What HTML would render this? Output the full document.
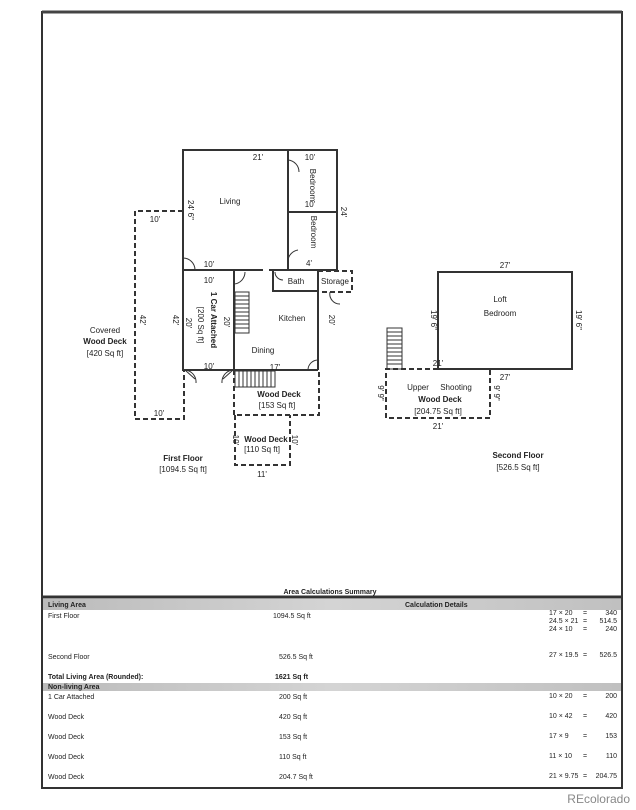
<!DOCTYPE html>
<html><head><meta charset="utf-8"><style>
html,body{margin:0;padding:0;background:#fff;}
svg{display:block;font-family:"Liberation Sans",sans-serif;}
</style></head><body>
<svg width="636" height="810" viewBox="0 0 636 810" xmlns="http://www.w3.org/2000/svg">
<rect x="0" y="0" width="636" height="810" fill="#fff"/>
<rect x="42" y="12" width="580" height="776" fill="none" stroke="#333" stroke-width="2"/>
<line x1="42" y1="12" x2="622" y2="12" stroke="#444" stroke-width="3"/>

<g stroke="#333" fill="none" stroke-width="2">
<polyline points="183,270 183,150 288,150 288,270"/>
<line x1="183" y1="270" x2="263" y2="270"/>
<line x1="269" y1="270" x2="337" y2="270"/>
<polyline points="288,150 337,150 337,270"/>
<line x1="288" y1="212" x2="337" y2="212"/>
<polyline points="183,270 183,370 318,370"/>
<line x1="234" y1="270" x2="234" y2="370"/>
<line x1="318" y1="270" x2="318" y2="370"/>
<polyline points="273,270 273,291 318,291"/>
<rect x="438" y="272" width="134" height="97"/>
</g>
<g stroke="#333" fill="none" stroke-width="2" stroke-dasharray="5,3">
<polyline points="183,211 135,211 135,419 184,419 184,370"/>
<polyline points="318,271 352,271 352,292 318,292"/>
<polyline points="234,370 234,415 319,415 319,370"/>
<polyline points="235,415 235,465 290,465 290,415"/>
<polyline points="438,369 386,369 386,418 490,418 490,369 438,369"/>
</g>
<g stroke="#333" stroke-width="1" fill="none">
<rect x="235" y="292" width="14" height="41"/>
<path d="M235 296h14M235 300h14M235 304h14M235 308h14M235 312h14M235 316h14M235 320h14M235 324h14M235 328h14"/>
<rect x="235" y="371" width="40" height="16"/>
<path d="M239 371v16M243 371v16M247 371v16M251 371v16M255 371v16M259 371v16M263 371v16M267 371v16M271 371v16"/>
<rect x="387" y="328" width="15" height="41"/>
<path d="M387 332h15M387 336h15M387 340h15M387 344h15M387 348h15M387 352h15M387 356h15M387 360h15M387 364h15"/>
<path d="M288 160 a12 12 0 0 1 11 12 M288 260 a12 12 0 0 1 10 -10 M183 258 a12 12 0 0 1 12 12 M234 272 v12 a12 12 0 0 0 11 -12"/>
<path d="M185 370 l10 9 M196 383 a12 12 0 0 0 -11 -13 M233 370 l-10 9 M222 383 a12 12 0 0 1 11 -13 M318 360 a10 10 0 0 0 -10 10 M330 292 a10 10 0 0 0 10 12 M275 272 a8 8 0 0 0 8 8"/>
</g>

<g font-size="8" fill="#222">
<text x="258" y="160" text-anchor="middle">21'</text>
<text x="230" y="204" text-anchor="middle">Living</text>
<text x="310" y="160" text-anchor="middle">10'</text>
<text x="310" y="207" text-anchor="middle">10'</text>
<text x="309" y="266" text-anchor="middle">4'</text>
<text x="209" y="267" text-anchor="middle">10'</text>
<text x="209" y="283" text-anchor="middle">10'</text>
<text x="209" y="369" text-anchor="middle">10'</text>
<text x="155" y="222" text-anchor="middle">10'</text>
<text x="159" y="416" text-anchor="middle">10'</text>
<text x="296" y="284" text-anchor="middle">Bath</text>
<text x="335" y="284" text-anchor="middle">Storage</text>
<text x="292" y="321" text-anchor="middle">Kitchen</text>
<text x="263" y="353" text-anchor="middle">Dining</text>
<text x="275" y="370" text-anchor="middle">17'</text>
<text x="277" y="408" text-anchor="middle">[153 Sq ft]</text>
<text x="262" y="452" text-anchor="middle">[110 Sq ft]</text>
<text x="262" y="477" text-anchor="middle">11'</text>
<text x="105" y="333" text-anchor="middle">Covered</text>
<text x="105" y="356" text-anchor="middle">[420 Sq ft]</text>
<text x="183" y="472" text-anchor="middle">[1094.5 Sq ft]</text>
<text x="505" y="268" text-anchor="middle">27'</text>
<text x="500" y="302" text-anchor="middle">Loft</text>
<text x="500" y="316" text-anchor="middle">Bedroom</text>
<text x="505" y="380" text-anchor="middle">27'</text>
<text x="438" y="366" text-anchor="middle">21'</text>
<text x="418" y="390" text-anchor="middle">Upper</text>
<text x="456" y="390" text-anchor="middle">Shooting</text>
<text x="438" y="414" text-anchor="middle">[204.75 Sq ft]</text>
<text x="438" y="429" text-anchor="middle">21'</text>
<text x="518" y="470" text-anchor="middle">[526.5 Sq ft]</text>
</g>
<g font-size="8" fill="#222" font-weight="bold">
<text x="279" y="397" text-anchor="middle">Wood Deck</text>
<text x="266" y="442" text-anchor="middle">Wood Deck</text>
<text x="105" y="344" text-anchor="middle">Wood Deck</text>
<text x="183" y="461" text-anchor="middle">First Floor</text>
<text x="440" y="402" text-anchor="middle">Wood Deck</text>
<text x="518" y="458" text-anchor="middle">Second Floor</text>
</g>
<g font-size="8" fill="#222">
<text transform="translate(188,210) rotate(90)" text-anchor="middle">24' 6"</text>
<text transform="translate(310,185) rotate(90)" text-anchor="middle">Bedroom</text>
<text transform="translate(311,232) rotate(90)" text-anchor="middle">Bedroom</text>
<text transform="translate(341,212) rotate(90)" text-anchor="middle">24'</text>
<text transform="translate(140,320) rotate(90)" text-anchor="middle">42'</text>
<text transform="translate(173,320) rotate(90)" text-anchor="middle">42'</text>
<text transform="translate(198,325) rotate(90)" text-anchor="middle">[200 Sq ft]</text>
<text transform="translate(186,323) rotate(90)" text-anchor="middle">20'</text>
<text transform="translate(224,322) rotate(90)" text-anchor="middle">20'</text>
<text transform="translate(329,320) rotate(90)" text-anchor="middle">20'</text>
<text transform="translate(233,440) rotate(90)" text-anchor="middle">10'</text>
<text transform="translate(292,440) rotate(90)" text-anchor="middle">10'</text>
<text transform="translate(431,320) rotate(90)" text-anchor="middle">19' 6"</text>
<text transform="translate(576,320) rotate(90)" text-anchor="middle">19' 6"</text>
<text transform="translate(378,393) rotate(90)" text-anchor="middle">9' 9"</text>
<text transform="translate(494,393) rotate(90)" text-anchor="middle">9' 9"</text>
<text transform="translate(211,320) rotate(90)" text-anchor="middle" font-weight="bold">1 Car Attached</text>
</g>

<text x="330" y="594" font-size="7" font-weight="bold" text-anchor="middle" fill="#222">Area Calculations Summary</text>
<line x1="42" y1="597" x2="622" y2="597" stroke="#333" stroke-width="3"/>
<defs><linearGradient id="g" x1="0" x2="1"><stop offset="0" stop-color="#bbb"/><stop offset="0.5" stop-color="#d4d4d4"/><stop offset="1" stop-color="#c0c0c0"/></linearGradient></defs>
<rect x="43" y="599" width="578" height="11" fill="url(#g)"/>
<rect x="43" y="683" width="578" height="8" fill="url(#g)"/>
<g font-size="7" fill="#222">
<text x="48" y="607" font-weight="bold">Living Area</text>
<text x="405" y="607" font-weight="bold">Calculation Details</text>
<text x="48" y="618">First Floor</text>
<text x="273" y="618">1094.5 Sq ft</text>
<text x="48" y="659">Second Floor</text>
<text x="279" y="659">526.5 Sq ft</text>
<text x="48" y="679" font-weight="bold">Total Living Area (Rounded):</text>
<text x="275" y="679" font-weight="bold">1621 Sq ft</text>
<text x="48" y="689" font-weight="bold">Non-living Area</text>
<text x="48" y="699">1 Car Attached</text><text x="279" y="699">200 Sq ft</text>
<text x="48" y="719">Wood Deck</text><text x="279" y="719">420 Sq ft</text>
<text x="48" y="739">Wood Deck</text><text x="279" y="739">153 Sq ft</text>
<text x="48" y="759">Wood Deck</text><text x="279" y="759">110 Sq ft</text>
<text x="48" y="779">Wood Deck</text><text x="279" y="779">204.7 Sq ft</text>
<g>
<text x="549" y="615">17 × 20</text><text x="583" y="615">=</text><text x="617" y="615" text-anchor="end">340</text>
<text x="549" y="623">24.5 × 21</text><text x="583" y="623">=</text><text x="617" y="623" text-anchor="end">514.5</text>
<text x="549" y="631">24 × 10</text><text x="583" y="631">=</text><text x="617" y="631" text-anchor="end">240</text>
<text x="549" y="657">27 × 19.5</text><text x="583" y="657">=</text><text x="617" y="657" text-anchor="end">526.5</text>
<text x="549" y="698">10 × 20</text><text x="583" y="698">=</text><text x="617" y="698" text-anchor="end">200</text>
<text x="549" y="718">10 × 42</text><text x="583" y="718">=</text><text x="617" y="718" text-anchor="end">420</text>
<text x="549" y="738">17 × 9</text><text x="583" y="738">=</text><text x="617" y="738" text-anchor="end">153</text>
<text x="549" y="758">11 × 10</text><text x="583" y="758">=</text><text x="617" y="758" text-anchor="end">110</text>
<text x="549" y="778">21 × 9.75</text><text x="583" y="778">=</text><text x="617" y="778" text-anchor="end">204.75</text>
</g>
</g>
<text x="630" y="803" font-size="12" fill="#888" text-anchor="end">REcolorado</text>
</svg>
</body></html>
